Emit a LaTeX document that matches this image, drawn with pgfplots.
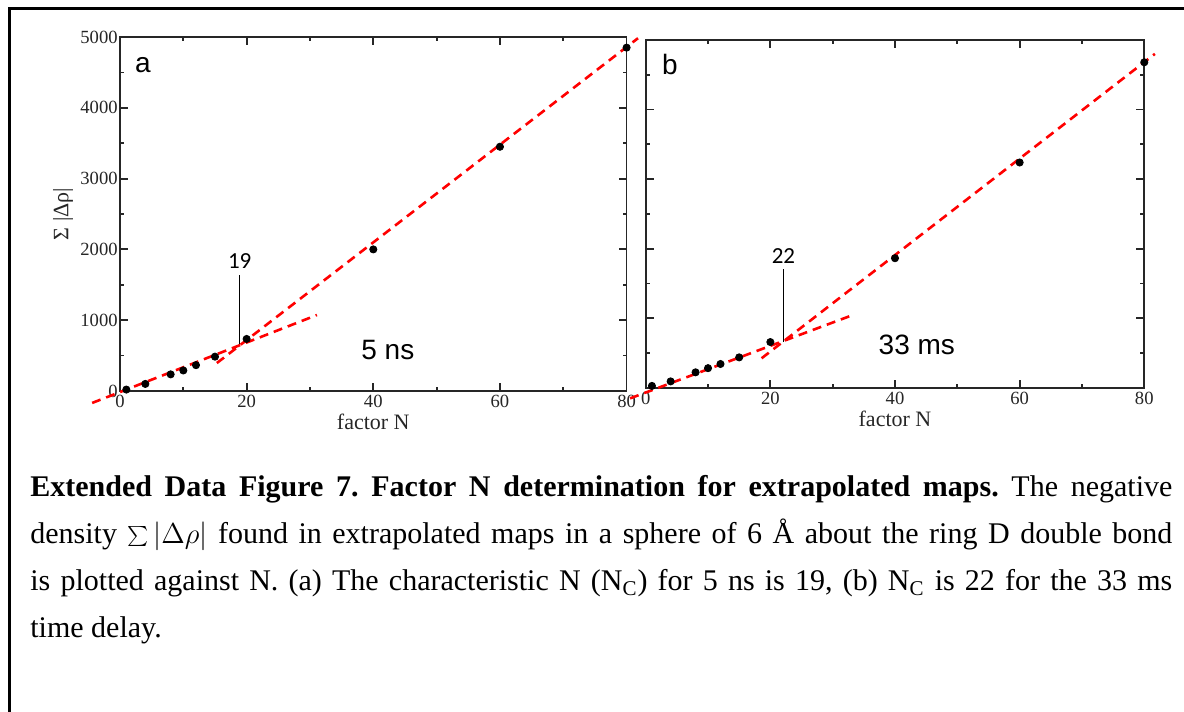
\documentclass[border=0pt]{standalone}
\usepackage{fontspec}
\setmainfont{Liberation Serif}
\newfontfamily\arialf{Liberation Sans}
\newfontfamily\calibrif{Carlito}
\usepackage{pgfplots}
\usepackage{pgfplotstable}
\pgfplotsset{compat=1.18}

\pgfplotstableread{
x y
1 20
4 100
8 235
10 290
12 365
15 485
20 735
40 2000
60 3450
80 4850
}\dataA
\pgfplotstableread{
x y
1 30
4 95
8 225
10 285
12 345
15 440
20 660
40 1865
60 3240
80 4680
}\dataB

\pgfplotsset{
  myax/.style={
    scale only axis, anchor=south west,
    xmin=0, xmax=80, ymin=0, ymax=5000,
    xtick={0,20,...,80}, minor xtick={10,30,50,70},
    ytick={0,1000,...,5000}, minor ytick={500,1500,...,4500},
    major tick length=4pt, minor tick length=2pt,
    axis line style={line width=0.9pt, black!85},
    tick style={line width=0.9pt, black!85},
    tick label style={font=\fontsize{9.3}{9.3}\selectfont, text=black!85},
    yticklabel style={inner xsep=1pt},
    xticklabel style={inner ysep=2pt},
    /pgf/number format/assume math mode=true,
    /pgf/number format/1000 sep={},
    clip=false,
    xlabel={factor N},
    xlabel style={font=\fontsize{11}{11}\selectfont, inner ysep=1pt, text=black!85},
  },
  fitline/.style={red, line width=1.3pt, dash pattern=on 4.5pt off 3pt, no marks},
  pts/.style={only marks, mark=*, mark size=1.8pt, black},
}

\begin{document}
\begin{tikzpicture}
% Panel a
\begin{axis}[myax, at={(60pt,160.5pt)}, width=253.3pt, height=177pt,
  ylabel={Σ |Δρ|},
  every axis y label/.style={at={(axis description cs:-0.1125,0.5)}, rotate=90, anchor=center, font=\fontsize{11}{11}\selectfont, text=black!85}]
  \addplot[fitline] coordinates {(-4.4,-169) (31.1,1073)};
  \addplot[fitline] coordinates {(15.3,395) (81.8,4983)};
  \addplot[black, line width=0.5pt] coordinates {(18.9,660) (18.9,1643)};
  \addplot[pts] table[x=x,y=y] {\dataA};
  \node[font=\calibrif\fontsize{11.5}{11.5}\selectfont] at (axis cs:18.9,1835) {19};
  \node[font=\arialf\fontsize{14}{14}\selectfont] at (axis cs:3.6,4605) {a};
  \node[font=\arialf\fontsize{14}{14}\selectfont] at (axis cs:42.3,577) {5 ns};
\end{axis}
% Panel b
\begin{axis}[myax, at={(322.85pt,162pt)}, width=249.3pt, height=174pt,
  yticklabels={}]
  \addplot[fitline] coordinates {(-2.5,-149) (33.3,1051)};
  \addplot[fitline] coordinates {(18.6,427) (81.7,4800)};
  \addplot[black, line width=0.5pt] coordinates {(22.1,665) (22.1,1705)};
  \addplot[pts] table[x=x,y=y] {\dataB};
  \node[font=\calibrif\fontsize{11.5}{11.5}\selectfont] at (axis cs:22.1,1897) {22};
  \node[font=\arialf\fontsize{14}{14}\selectfont] at (axis cs:3.9,4655) {b};
  \node[font=\arialf\fontsize{14}{14}\selectfont] at (axis cs:43.5,618) {33 ms};
\end{axis}
% frame
\draw[line width=1.5pt] (4.5pt,0pt) -- (4.5pt,351.5pt) -- (592pt,351.5pt);
% caption
\node[inner sep=0pt, anchor=base west] at (15pt,107.5pt) {\parbox[t]{571pt}{\fontsize{15}{23.5}\selectfont\frenchspacing
\textbf{Extended Data Figure 7. Factor N determination for extrapolated maps.} The negative\linebreak
density $\sum|\Delta\rho|$ found in extrapolated maps in a sphere of 6 Å about the ring D double bond\linebreak
is plotted against N. (a) The characteristic N (N\textsubscript{C}) for 5 ns is 19, (b) N\textsubscript{C} is 22 for the 33 ms\linebreak
time delay.}};
\pgfresetboundingbox
\path[use as bounding box] (0pt,0pt) rectangle (592pt,356pt);
\end{tikzpicture}
\end{document}
